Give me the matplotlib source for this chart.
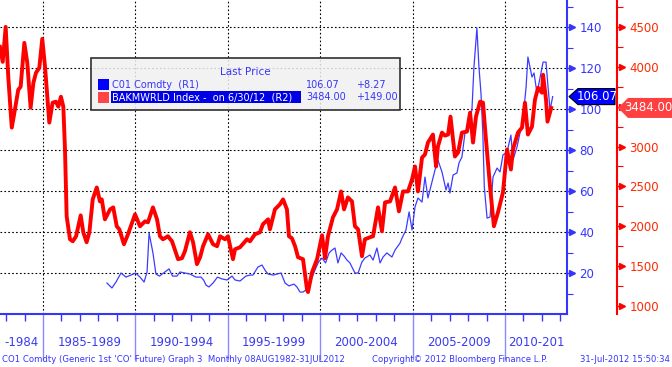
"""Brent (CO1) vs Baker Hughes world rig count, Bloomberg-style dual axis chart."""
import matplotlib
matplotlib.use("Agg")
import matplotlib.pyplot as plt
from matplotlib.patches import Polygon, Rectangle
from matplotlib.transforms import blended_transform_factory

W, H = 672, 367

# BAKMWRLD Index (right outer axis), decimal years
red_years = [1982.67, 1982.82, 1982.98, 1983.12, 1983.31, 1983.48, 1983.66, 1983.79, 1983.99,
             1984.15, 1984.33, 1984.48, 1984.62, 1984.80, 1984.96, 1985.11, 1985.34, 1985.52,
             1985.70, 1985.83, 1985.97, 1986.10, 1986.19, 1986.28, 1986.46, 1986.61, 1986.79,
             1987.04, 1987.18, 1987.36, 1987.51, 1987.69, 1987.91, 1988.08, 1988.18, 1988.35,
             1988.63, 1988.80, 1988.99, 1989.13, 1989.38, 1989.60, 1989.98, 1990.25, 1990.52,
             1990.68, 1990.95, 1991.17, 1991.33, 1991.49, 1991.76, 1991.98, 1992.31, 1992.52,
             1992.68, 1992.95, 1993.12, 1993.33, 1993.50, 1993.66, 1993.93, 1994.20, 1994.42,
             1994.58, 1994.85, 1995.01, 1995.28, 1995.39, 1995.66, 1996.04, 1996.20, 1996.47,
             1996.74, 1996.90, 1997.18, 1997.28, 1997.55, 1997.82, 1997.99, 1998.20, 1998.31,
             1998.47, 1998.64, 1998.80, 1999.07, 1999.29, 1999.34, 1999.56, 1999.83, 2000.10,
             2000.26, 2000.42, 2000.69, 2000.91, 2001.13, 2001.29, 2001.50, 2001.72, 2001.88,
             2002.05, 2002.26, 2002.42, 2002.69, 2002.86, 2003.13, 2003.34, 2003.51, 2003.78,
             2004.05, 2004.26, 2004.48, 2004.75, 2004.97, 2005.13, 2005.29, 2005.51, 2005.67,
             2005.83, 2006.10, 2006.27, 2006.37, 2006.59, 2006.75, 2006.92, 2007.05, 2007.29,
             2007.46, 2007.67, 2007.94, 2008.11, 2008.27, 2008.43, 2008.65, 2008.81, 2008.97,
             2009.19, 2009.40, 2009.62, 2009.89, 2010.11, 2010.32, 2010.43, 2010.70, 2010.92,
             2011.08, 2011.24, 2011.46, 2011.62, 2011.79, 2012.00, 2012.06, 2012.22, 2012.30,
             2012.50]
red_vals = [4250, 4062, 4500, 3875, 3237, 3462, 3712, 3750, 4300,
            4050, 3487, 3800, 3925, 3987, 4350, 4000, 3300, 3550,
            3562, 3500, 3625, 3500, 2962, 2125, 1837, 1812, 1875,
            2137, 1925, 1800, 1925, 2337, 2487, 2312, 2337, 2087,
            2212, 2237, 2000, 1962, 1775, 1900, 2150, 2000, 2062,
            2050, 2237, 2087, 1875, 1837, 1875, 1812, 1587, 1600,
            1687, 1925, 1800, 1525, 1612, 1750, 1900, 1775, 1750,
            1875, 1837, 1875, 1587, 1712, 1737, 1837, 1812, 1900,
            1925, 2025, 2087, 1962, 2212, 2275, 2337, 2212, 1875,
            1850, 1750, 1612, 1587, 1200, 1175, 1425, 1587, 1887,
            1600, 1875, 2112, 2212, 2437, 2212, 2362, 2312, 2000,
            1962, 1625, 1837, 1862, 1875, 2237, 1937, 2300, 2312,
            2487, 2187, 2437, 2437, 2587, 2750, 2437, 2862, 2900,
            3050, 3150, 2750, 3000, 3175, 3137, 3150, 3375, 2875,
            2925, 3175, 3187, 3425, 3050, 3375, 3562, 3550, 3087,
            2500, 2000, 2175, 2425, 2962, 2712, 2962, 3175, 3237,
            3550, 3150, 3250, 3587, 3737, 3675, 3900, 3587, 3312,
            3484]

# CO1 Comdty (right inner axis)
blue_years = [1988.46, 1988.73, 1988.95, 1989.22, 1989.49, 1989.76, 1990.01, 1990.25, 1990.47,
              1990.63, 1990.74, 1990.95, 1991.11, 1991.30, 1991.60, 1991.82, 1992.01, 1992.25,
              1992.41, 1992.68, 1992.95, 1993.28, 1993.55, 1993.69, 1993.82, 1993.98, 1994.20,
              1994.44, 1994.69, 1994.96, 1995.23, 1995.39, 1995.66, 1995.98, 1996.20, 1996.36,
              1996.63, 1996.85, 1997.04, 1997.18, 1997.45, 1997.66, 1997.88, 1998.10, 1998.31,
              1998.58, 1998.74, 1998.91, 1999.07, 1999.29, 1999.50, 1999.72, 1999.91, 2000.10,
              2000.29, 2000.48, 2000.64, 2000.80, 2000.96, 2001.13, 2001.29, 2001.45, 2001.61,
              2001.88, 2002.05, 2002.26, 2002.42, 2002.69, 2002.86, 2003.07, 2003.24, 2003.40,
              2003.61, 2003.88, 2004.05, 2004.32, 2004.43, 2004.64, 2004.81, 2004.97, 2005.13,
              2005.29, 2005.51, 2005.67, 2005.83, 2006.05, 2006.21, 2006.37, 2006.59, 2006.81,
              2006.92, 2007.02, 2007.19, 2007.40, 2007.51, 2007.67, 2007.84, 2008.00, 2008.21,
              2008.32, 2008.48, 2008.59, 2008.70, 2008.80, 2008.88, 2009.03, 2009.19, 2009.35,
              2009.57, 2009.73, 2009.89, 2010.11, 2010.32, 2010.43, 2010.65, 2010.81, 2010.97,
              2011.14, 2011.24, 2011.46, 2011.57, 2011.73, 2011.84, 2012.06, 2012.22, 2012.33,
              2012.44, 2012.58]
blue_vals = [15.1, 12.7, 15.6, 20.0, 18.0, 19.0, 20.0, 18.0, 15.6,
             20.5, 39.5, 29.8, 19.5, 18.5, 20.5, 22.0, 18.5, 18.5,
             20.5, 20.0, 19.5, 18.0, 18.0, 16.6, 14.1, 13.2, 15.1,
             18.0, 17.1, 16.6, 18.5, 16.6, 16.1, 18.5, 19.0, 19.0,
             22.9, 23.9, 21.0, 19.5, 19.0, 19.5, 20.0, 15.1, 13.7,
             14.6, 13.2, 10.7, 10.7, 12.2, 16.6, 21.5, 25.4, 27.3,
             24.9, 29.8, 31.2, 32.2, 24.9, 29.8, 28.3, 26.3, 24.9,
             20.0, 20.0, 25.4, 27.3, 28.8, 26.3, 32.2, 24.9, 27.8,
             29.8, 27.8, 31.2, 34.6, 37.1, 41.0, 49.8, 41.0, 52.2,
             56.6, 54.6, 66.8, 56.6, 64.4, 70.2, 75.1, 69.3, 60.5,
             63.9, 59.0, 67.8, 68.8, 73.7, 76.6, 88.8, 91.2, 99.5,
             120.5, 139.5, 120.5, 107.8, 88.3, 62.0, 46.8, 47.3, 66.8,
             71.2, 69.3, 77.6, 79.0, 87.3, 75.1, 81.5, 88.3, 94.6,
             110.7, 125.4, 115.6, 117.6, 107.8, 112.7, 122.9, 122.9, 110.7,
             99.5, 106.07]

period_labels = ["-1984", "1985-1989", "1990-1994", "1995-1999", "2000-2004", "2005-2009", "2010-201"]
period_bounds = [1982.673, 1985, 1990, 1995, 2000, 2005, 2010, 2013.355]
blue_ticks = [20, 40, 60, 80, 100, 120, 140]
red_ticks = [1000, 1500, 2000, 2500, 3000, 3500, 4000, 4500]
# 3500 sits under the last-value tag in the original, so no text there
red_tick_labels = ["1000", "1500", "2000", "2500", "3000", "", "4000", "4500"]

BLUE = "#3535ff"
RED = "#ff0000"
RED_TXT = "#ff2a00"


def fx(x):
    return x / W


def fy(y):
    return 1 - y / H


fig = plt.figure(figsize=(W / 100, H / 100), dpi=100)
ax = fig.add_axes([0, 53 / H, 567 / W, 314 / H])
ax2 = ax.twinx()
ax.yaxis.tick_right()

ax.plot(blue_years, blue_vals, color="#3c3cff", lw=0.9, zorder=3)
ax.set_xlim(period_bounds[0], period_bounds[-1])
ax.set_ylim(0, 153.2)

for s in ("left", "top"):
    ax.spines[s].set_visible(False)
ax.spines["right"].set_color(BLUE)
ax.spines["right"].set_linewidth(1.5)
ax.spines["bottom"].set_color(BLUE)
ax.spines["bottom"].set_linewidth(1.5)

ax.set_yticks(blue_ticks)
ax.set_yticks(range(10, 151, 20), minor=True)
ax.tick_params(axis="y", which="major", direction="out", length=5, width=1,
               color=BLUE, labelcolor=BLUE, labelsize=8.5, pad=4)
ax.tick_params(axis="y", which="minor", direction="out", length=4, width=0.8, color=BLUE)

ax.set_xticks(period_bounds[1:-1])
ax.set_xticks(range(1983, 2014), minor=True)
ax.tick_params(axis="x", which="major", length=33, width=1, color="#8a8aff", labelbottom=False)
ax.tick_params(axis="x", which="minor", length=5, width=1, color=BLUE)
ax.grid(which="major", color="black", ls=(0, (1.5, 2)), lw=0.8)

tr = blended_transform_factory(ax.transAxes, ax.transData)
ax.plot([572 / 567] * len(blue_ticks), blue_ticks, ls="none", marker=">", ms=4,
        color=BLUE, transform=tr, clip_on=False)

trx = blended_transform_factory(ax.transData, ax.transAxes)
for lab, a, b in zip(period_labels, period_bounds[:-1], period_bounds[1:]):
    ax.text((a + b) / 2, -29 / 314, lab, transform=trx, ha="center", va="center",
            color="#3a3af0", fontsize=8.5)

# red axis
ax2.plot(red_years, red_vals, color=RED, lw=2.8, solid_joinstyle="round", zorder=4)
ax2.set_ylim(900, 4837.5)
for s in ("left", "top", "bottom"):
    ax2.spines[s].set_visible(False)
ax2.spines["right"].set_position(("axes", 617 / 567))
ax2.spines["right"].set_color(RED)
ax2.spines["right"].set_linewidth(1.5)
ax2.set_yticks(red_ticks)
ax2.set_yticklabels(red_tick_labels)
ax2.set_yticks(range(1250, 4800, 500), minor=True)
ax2.tick_params(axis="y", which="major", direction="out", length=5, width=1,
                color=RED, labelcolor=RED_TXT, labelsize=8.5, pad=4)
ax2.tick_params(axis="y", which="minor", direction="out", length=4, width=0.8, color=RED)
tr2 = blended_transform_factory(ax2.transAxes, ax2.transData)
ax2.plot([622 / 567] * len(red_ticks), red_ticks, ls="none", marker=">", ms=4,
         color=RED, transform=tr2, clip_on=False)

# legend box
fig.patches.append(Rectangle((fx(91), fy(110)), fx(309), 52 / H, transform=fig.transFigure,
                             fc=(0.94, 0.94, 0.94, 0.85), ec="#303030", lw=1.2, zorder=5))
fig.text(fx(245), fy(72), "Last Price", color=BLUE, fontsize=7.5, ha="center", va="center", zorder=6)
fig.patches.append(Rectangle((fx(98), fy(90)), fx(11), 11 / H, transform=fig.transFigure,
                             fc="#0000ff", ec="none", zorder=6))
fig.patches.append(Rectangle((fx(98), fy(103)), fx(11), 11 / H, transform=fig.transFigure,
                             fc="#ff4545", ec="none", zorder=6))
fig.patches.append(Rectangle((fx(111), fy(103)), fx(190), 12 / H, transform=fig.transFigure,
                             fc="#0000e6", ec="none", zorder=6))
fig.text(fx(112), fy(85), "C01 Comdty  (R1)", color=BLUE, fontsize=7, va="center", zorder=7)
fig.text(fx(112), fy(97.5), "BAKMWRLD Index -  on 6/30/12  (R2)", color="white", fontsize=7,
         va="center", zorder=7)
fig.text(fx(306), fy(85), "106.07", color=BLUE, fontsize=7, va="center", zorder=7)
fig.text(fx(306), fy(97.5), "3484.00", color=BLUE, fontsize=7, va="center", zorder=7)
fig.text(fx(356), fy(85), "+8.27", color=BLUE, fontsize=7, va="center", zorder=7)
fig.text(fx(356), fy(97.5), "+149.00", color=BLUE, fontsize=7, va="center", zorder=7)

# last value tags
yb = H - ax.transData.transform((2000, blue_vals[-1]))[1]
yr = H - ax2.transData.transform((2000, red_vals[-1]))[1]
pts_b = [(569, yb), (578, yb - 8), (615, yb - 8), (615, yb + 8), (578, yb + 8)]
fig.patches.append(Polygon([(fx(x), fy(y)) for x, y in pts_b], closed=True, transform=fig.transFigure,
                           fc="#0000ff", ec="black", lw=0.8, zorder=8))
fig.text(fx(597), fy(yb), f"{blue_vals[-1]:.2f}", color="white", fontsize=8.5, ha="center",
         va="center", zorder=9)
pts_r = [(618, yr), (628, yr - 10), (672, yr - 10), (672, yr + 10), (628, yr + 10)]
fig.patches.append(Polygon([(fx(x), fy(y)) for x, y in pts_r], closed=True, transform=fig.transFigure,
                           fc="#ff4040", ec="none", zorder=8))
fig.text(fx(648), fy(yr), f"{red_vals[-1]:.2f}", color="white", fontsize=8.5, ha="center",
         va="center", zorder=9)

# footer
fig.text(fx(2), fy(360), "CO1 Comdty (Generic 1st 'CO' Future) Graph 3  Monthly 08AUG1982-31JUL2012",
         color=BLUE, fontsize=6.1, va="center")
fig.text(fx(372), fy(360), "Copyright\u00a9 2012 Bloomberg Finance L.P.", color=BLUE, fontsize=6.1,
         va="center")
fig.text(fx(670), fy(360), "31-Jul-2012 15:50:34", color=BLUE, fontsize=6.1, ha="right", va="center")

fig.savefig("out.png", dpi=100)
